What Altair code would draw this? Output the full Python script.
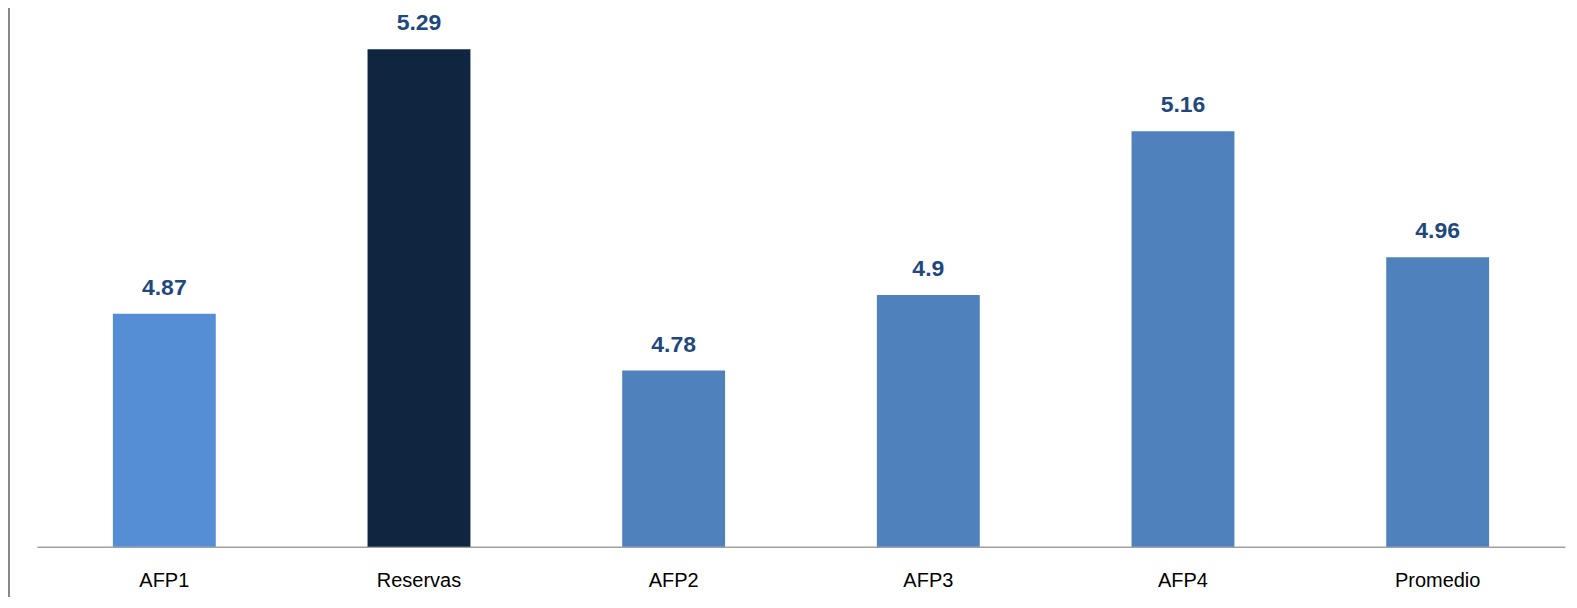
import altair as alt
import pandas as pd

categories = ["AFP1", "Reservas", "AFP2", "AFP3", "AFP4", "Promedio"]
values = [4.87, 5.29, 4.78, 4.9, 5.16, 4.96]
labels = ["4.87", "5.29", "4.78", "4.9", "5.16", "4.96"]
colors = ["#558ED5", "#10253F", "#4F81BD", "#4F81BD", "#4F81BD", "#4F81BD"]

df = pd.DataFrame({"cat": categories, "val": values, "lab": labels, "col": colors})

x = alt.X("cat:N", sort=categories, title=None,
          scale=alt.Scale(paddingInner=0, paddingOuter=0),
          axis=alt.Axis(labelAngle=0, labelFont="Liberation Sans", labelFontSize=20,
                        labelColor="#000000", labelPadding=24, ticks=False,
                        domainColor="#A0A0A0", domainWidth=1.5))
y = alt.Y("val:Q", title=None, scale=alt.Scale(domain=[4.5, 5.3554], nice=False, zero=False),
          axis=None)

bars = alt.Chart(df).mark_bar(width=alt.RelativeBandSize(0.404), clip=True).encode(
    x=x, y=y, color=alt.Color("col:N", scale=None))

text = alt.Chart(df).mark_text(baseline="alphabetic", dy=-19, fontSize=23, fontWeight="bold",
                               font="Liberation Sans", color="#1F497D").encode(
    x=alt.X("cat:N", sort=categories), y="val:Q", text="lab:N")

frame = alt.Chart(df).mark_rule(color="#888888", strokeWidth=2).encode(
    x=alt.value(-28), y=alt.value(-8), y2=alt.value(620))

chart = alt.layer(bars, text, frame).properties(
    width=1529, height=539,
    autosize=alt.AutoSizeParams(type="none"),
    padding={"left": 29, "top": 0, "right": 4, "bottom": 50},
).configure_view(stroke=None)

chart.save("out.html", embed_options={"renderer": "svg", "actions": False})
